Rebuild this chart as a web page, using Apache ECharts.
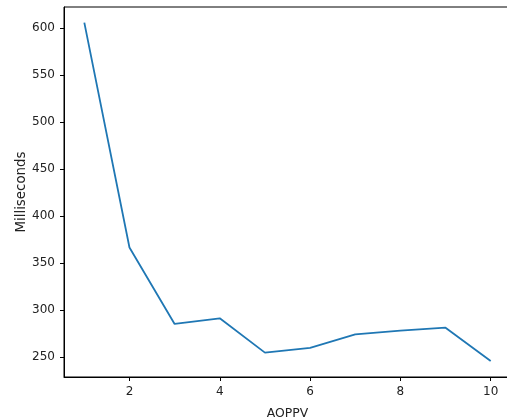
<!DOCTYPE html>
<html><head><meta charset="utf-8">
<script src="https://cdn.jsdelivr.net/npm/echarts@6/dist/echarts.min.js"></script>
<style>html,body{margin:0;padding:0;background:#fff}#c{width:507px;height:420px}</style>
</head><body><div id="c"></div>
<script>
const xValues = [1, 2, 3, 4, 5, 6, 7, 8, 9, 10];
const msValues = [606, 366.5, 285, 291, 254.5, 259.5, 274, 278, 281, 245.5];
const xTicks = [2, 4, 6, 8, 10];
const yTicks = [250, 300, 350, 400, 450, 500, 550, 600];

const chart = echarts.init(document.getElementById('c'), null, {renderer: 'canvas'});
const font = 'DejaVu Sans, sans-serif';
chart.setOption({
  animation: false,
  grid: {left: 64, top: 7, width: 447, height: 370, outerBoundsMode: 'none', containLabel: false, show: true, borderColor: '#000', borderWidth: 1, backgroundColor: 'transparent'},
  xAxis: {
    type: 'value', min: 0.55, max: 10.45,
    name: 'AOPPV', nameLocation: 'middle', nameGap: 31,
    nameTextStyle: {color: '#222', fontSize: 12.4, fontFamily: font},
    splitLine: {show: false},
    axisLine: {lineStyle: {color: '#000', width: 1}},
    axisTick: {show: true, length: 4, customValues: xTicks, lineStyle: {color: '#000'}},
    axisLabel: {customValues: xTicks, color: '#222', fontSize: 12, fontFamily: font, margin: 9}
  },
  yAxis: {
    type: 'value', min: 228.5, max: 622.7,
    name: 'Milliseconds', nameLocation: 'middle', nameGap: 35.5, nameRotate: 90, nameMoveOverlap: false,
    nameTextStyle: {color: '#222', fontSize: 13.4, fontFamily: font},
    splitLine: {show: false},
    axisLine: {show: true, lineStyle: {color: '#000', width: 1}},
    axisTick: {show: true, length: 4, customValues: yTicks, lineStyle: {color: '#000'}},
    axisLabel: {customValues: yTicks, color: '#222', fontSize: 12, fontFamily: font, margin: 9}
  },
  series: [{
    type: 'line',
    data: xValues.map((x, i) => [x, msValues[i]]),
    showSymbol: false,
    lineStyle: {color: '#1f77b4', width: 1.8},
    itemStyle: {color: '#1f77b4'}
  }]
});
</script></body></html>
